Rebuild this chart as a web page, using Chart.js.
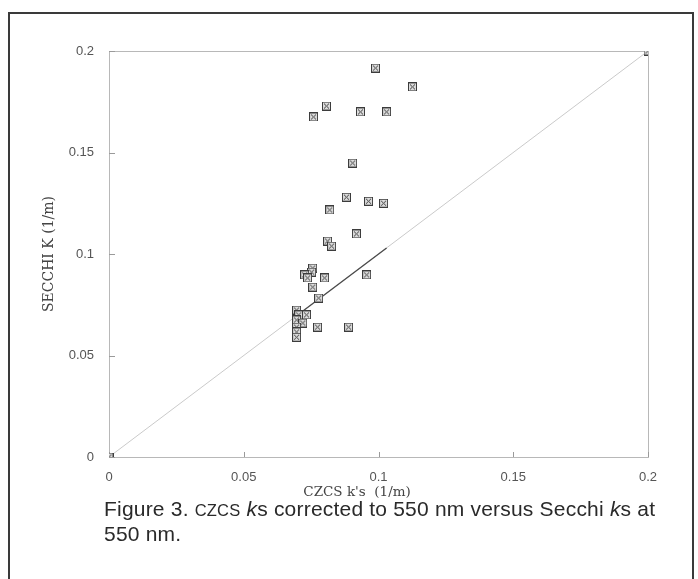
<!DOCTYPE html>
<html>
<head>
<meta charset="utf-8">
<script src="https://cdn.jsdelivr.net/npm/chart.js@4/dist/chart.umd.min.js"></script>
<style>
  html, body { margin: 0; padding: 0; background: #fff; }
  #wrap { position: relative; width: 698px; height: 579px; overflow: hidden; }
  #frame { position: absolute; left: 8px; top: 12px; width: 682px; height: 600px; border: 2px solid #3a3a3a; }
  #c { position: absolute; left: 0; top: 0; }
  #caption { position: absolute; left: 104px; top: 497px; width: 580px; font-family: "Liberation Sans", Arial, sans-serif; font-size: 21px; letter-spacing: 0.2px; line-height: 24px; color: #2a2a2a; }
  #caption .sc { font-size: 16.5px; }
</style>
</head>
<body>
<div id="wrap">
  <div id="frame"></div>
  <canvas id="c" width="698" height="579"></canvas>
  <div id="caption">Figure 3. <span class="sc">CZCS</span> <i>k</i>s corrected to 550 nm versus Secchi <i>k</i>s at<br>550 nm.</div>
</div>
<script>
(function () {
  // CZCS k (x) vs Secchi K (y), 1/m
  var czcsK = [0, 0.2, 0.0989, 0.1126, 0.0807, 0.0759, 0.0933, 0.103, 0.0904, 0.0881, 0.0963, 0.1019, 0.0819,
    0.0918, 0.0811, 0.0826, 0.0756, 0.0752, 0.0726, 0.0737, 0.080, 0.0956, 0.0756, 0.0778, 0.0696, 0.0704,
    0.0733, 0.0696, 0.0719, 0.0696, 0.0774, 0.0889, 0.0696, 0.0696];
  var secchiK = [0, 0.2, 0.1916, 0.1823, 0.1729, 0.1675, 0.170, 0.170, 0.1448, 0.128, 0.126, 0.125, 0.1217,
    0.1099, 0.1064, 0.1039, 0.0931, 0.0911, 0.0897, 0.0882, 0.0882, 0.0897, 0.0837, 0.0783, 0.0724, 0.070,
    0.070, 0.0675, 0.066, 0.064, 0.064, 0.064, 0.0616, 0.059];
  var oneToOne = [0, 0.2];
  var darkSegment = [0.069, 0.103];
  var tickValues = [0, 0.05, 0.1, 0.15, 0.2];
  var tickLabels = ['0', '0.05', '0.1', '0.15', '0.2'];

  // boxed-x marker
  var mark = document.createElement('canvas');
  mark.width = 9; mark.height = 9;
  var m = mark.getContext('2d');
  m.fillStyle = '#dcdcdc';
  m.fillRect(1, 1, 7, 7);
  m.strokeStyle = '#3c3c3c';
  m.lineWidth = 1;
  m.strokeRect(0.5, 0.5, 8, 8);
  m.beginPath();
  m.moveTo(2, 2); m.lineTo(7, 7);
  m.moveTo(7, 2); m.lineTo(2, 7);
  m.stroke();

  var points = czcsK.map(function (x, i) { return { x: x, y: secchiK[i] }; });

  var frameAndTicks = {
    id: 'frameAndTicks',
    beforeDatasetsDraw: function (chart) {
      var a = chart.chartArea, ctx = chart.ctx;
      ctx.save();
      ctx.strokeStyle = '#b8b8b8';
      ctx.lineWidth = 1;
      ctx.strokeRect(a.left + 0.5, a.top + 0.5, a.right - a.left, a.bottom - a.top);
      ctx.strokeStyle = '#9a9a9a';
      ctx.beginPath();
      tickValues.forEach(function (v) {
        var px = Math.round(chart.scales.x.getPixelForValue(v)) + 0.5;
        ctx.moveTo(px, a.bottom); ctx.lineTo(px, a.bottom - 5);
        var py = Math.round(chart.scales.y.getPixelForValue(v)) + 0.5;
        ctx.moveTo(a.left, py); ctx.lineTo(a.left + 6, py);
      });
      ctx.stroke();
      ctx.restore();
    }
  };

  function axisTicks(axis) {
    axis.ticks = tickValues.map(function (v) { return { value: v }; });
  }

  new Chart(document.getElementById('c'), {
    type: 'scatter',
    data: {
      datasets: [
        { data: points, pointStyle: mark, pointRadius: 4.5, showLine: false, order: 0 },
        { type: 'line', data: oneToOne.map(function (v) { return { x: v, y: v }; }), borderColor: '#cacaca', borderWidth: 1, pointRadius: 0, order: 2 },
        { type: 'line', data: darkSegment.map(function (v) { return { x: v, y: v }; }), borderColor: '#4a4a4a', borderWidth: 1.3, pointRadius: 0, order: 1 }
      ]
    },
    options: {
      responsive: false,
      animation: false,
      layout: { padding: { left: 0, right: 50, top: 51, bottom: 74 } },
      plugins: { legend: { display: false }, tooltip: { enabled: false } },
      scales: {
        x: {
          type: 'linear', min: 0, max: 0.2,
          afterBuildTicks: axisTicks,
          afterFit: function (s) { s.height = 48; },
          grid: { display: false, drawTicks: false },
          border: { display: false },
          ticks: { padding: 13, color: '#555', font: { family: 'Liberation Sans', size: 13 }, maxRotation: 0,
            callback: function (v, i) { return tickLabels[i]; } },
          title: { display: true, text: "CZCS k's  (1/m)          ", color: '#444', padding: { top: 0, bottom: 4 },
            font: { family: 'DejaVu Serif', size: 13.5 } }
        },
        y: {
          type: 'linear', min: 0, max: 0.2,
          afterBuildTicks: axisTicks,
          afterFit: function (s) { s.width = 109; },
          grid: { display: false, drawTicks: false },
          border: { display: false },
          ticks: { padding: 15, color: '#555', font: { family: 'Liberation Sans', size: 13 },
            callback: function (v, i) { return tickLabels[i]; } },
          title: { display: true, text: 'SECCHI K (1/m)', color: '#444', padding: { top: 41, bottom: 0 },
            font: { family: 'DejaVu Serif', size: 14 } }
        }
      }
    },
    plugins: [frameAndTicks]
  });
})();
</script>
</body>
</html>
